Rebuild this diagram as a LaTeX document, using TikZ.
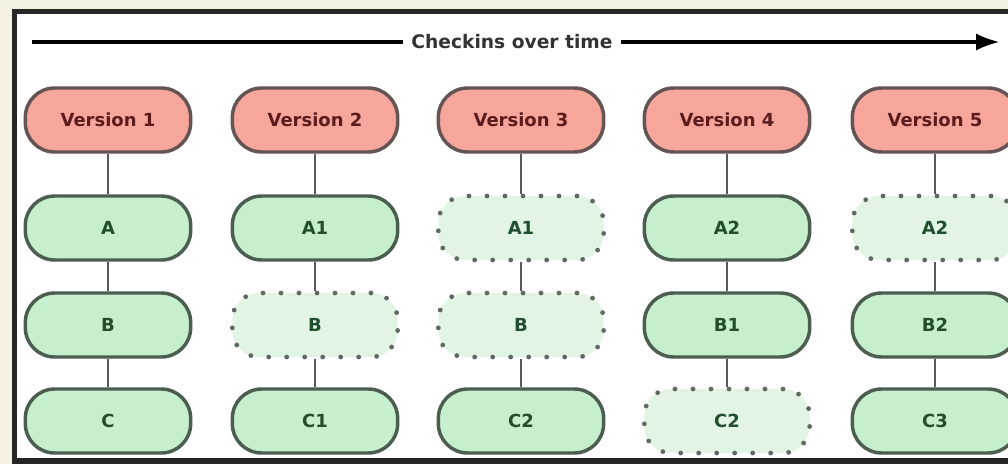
\documentclass[tikz,border=0pt]{standalone}
\usepackage{fontspec}
\setmainfont{DejaVu Sans}
\usetikzlibrary{arrows.meta}

\definecolor{pagebg}{RGB}{244,240,226}
\definecolor{versionfill}{RGB}{247,166,156}
\definecolor{versionline}{RGB}{100,84,84}
\definecolor{versiontext}{RGB}{92,28,28}
\definecolor{filefill}{RGB}{198,239,205}
\definecolor{fileline}{RGB}{76,94,80}
\definecolor{filetext}{RGB}{34,78,46}
\definecolor{linkfill}{RGB}{226,245,228}
\definecolor{linkline}{RGB}{96,106,96}

\begin{document}
\begin{tikzpicture}[x=0.75pt,y=0.75pt,yscale=-1,xscale=1,
  version/.style={draw=versionline,fill=versionfill,text=versiontext,line width=2.6pt,
    rounded corners=22pt,minimum width=124pt,minimum height=48pt,
    font=\bfseries\fontsize{13.5}{16}\selectfont},
  file/.style={draw=fileline,fill=filefill,text=filetext,line width=2.6pt,
    rounded corners=22pt,minimum width=124pt,minimum height=48pt,
    font=\bfseries\fontsize{13.5}{16}\selectfont},
  unchanged/.style={file,draw=linkline,fill=linkfill,line width=3.6pt,
    dash pattern=on 0pt off 13.5pt,line cap=round,rounded corners=20pt},
  link/.style={draw=black!65,line width=1.6pt}]
\useasboundingbox (0,0) rectangle (1008,464);

%Shape: Background
\fill[pagebg] (0,0) rectangle (1008,464);
%Shape: Frame
\draw[line width=3.8pt,fill=white,draw=black!85] (14.5,11.5) rectangle (1030,461);

%Straight Lines: timeline
\coordinate (tstart) at (32,42);
\coordinate (tend) at (1000,42);
\draw[line width=3pt,-{Latex[length=18pt,width=13pt]}] (tstart) -- (tend);
% Text Node
\node[fill=white,inner xsep=6pt,text=black!80,font=\bfseries\fontsize{14}{16}\selectfont] (tlabel) at (512,42) {Checkins over time};

%Version 1
\node[version] (v1) at (108,120) {Version 1};
\node[file] (a1) at (108,228) {A};
\node[file] (b1) at (108,325) {B};
\node[file] (c1) at (108,421) {C};

%Version 2
\node[version] (v2) at (315,120) {Version 2};
\node[file] (a2) at (315,228) {A1};
\node[unchanged] (b2) at (315,325) {B};
\node[file] (c2) at (315,421) {C1};

%Version 3
\node[version] (v3) at (521,120) {Version 3};
\node[unchanged] (a3) at (521,228) {A1};
\node[unchanged] (b3) at (521,325) {B};
\node[file] (c3) at (521,421) {C2};

%Version 4
\node[version] (v4) at (727,120) {Version 4};
\node[file] (a4) at (727,228) {A2};
\node[file] (b4) at (727,325) {B1};
\node[unchanged] (c4) at (727,421) {C2};

%Version 5
\node[version] (v5) at (935,120) {Version 5};
\node[unchanged] (a5) at (935,228) {A2};
\node[file] (b5) at (935,325) {B2};
\node[file] (c5) at (935,421) {C3};

%Straight Lines
\draw[link] (v1) -- (a1) (a1) -- (b1) (b1) -- (c1);
\draw[link] (v2) -- (a2) (a2) -- (b2) (b2) -- (c2);
\draw[link] (v3) -- (a3) (a3) -- (b3) (b3) -- (c3);
\draw[link] (v4) -- (a4) (a4) -- (b4) (b4) -- (c4);
\draw[link] (v5) -- (a5) (a5) -- (b5) (b5) -- (c5);

\end{tikzpicture}
\end{document}
